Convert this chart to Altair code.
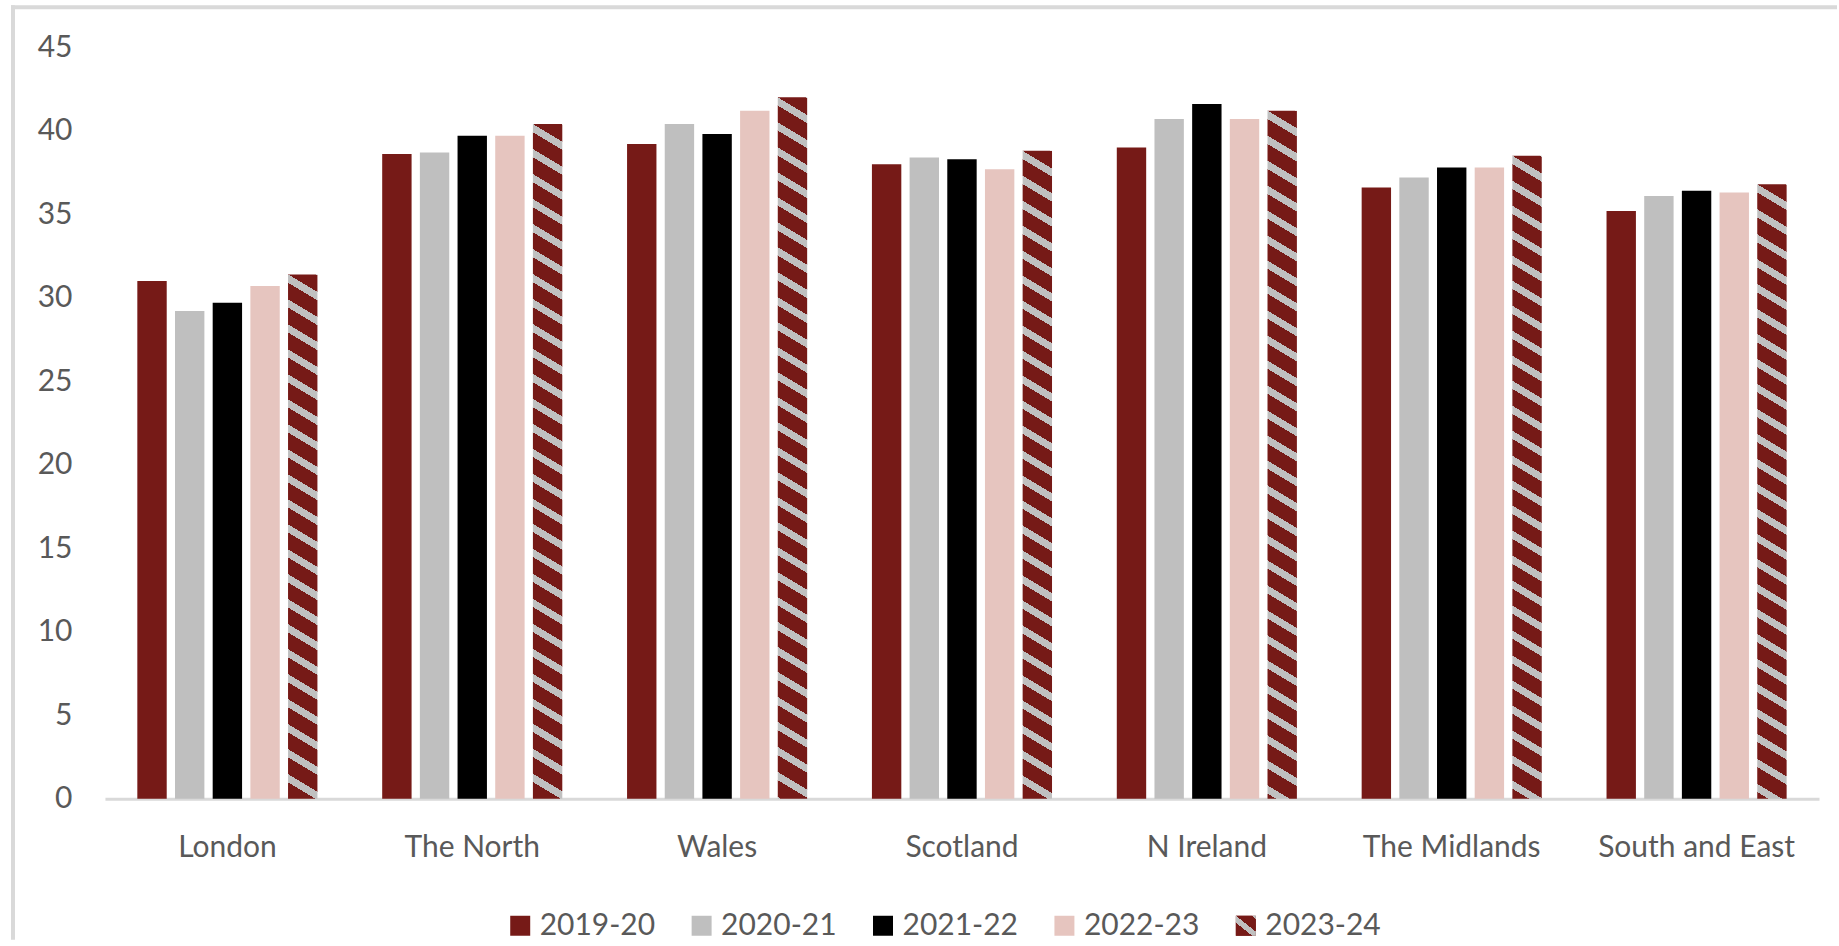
import math

import altair as alt
import pandas as pd

# ---- data -------------------------------------------------------------
REGIONS = ["London", "The North", "Wales", "Scotland", "N Ireland",
           "The Midlands", "South and East"]
SERIES = ["2019-20", "2020-21", "2021-22", "2022-23", "2023-24"]

V_2019_20 = [31.0, 38.6, 39.2, 38.0, 39.0, 36.6, 35.2]
V_2020_21 = [29.2, 38.7, 40.4, 38.4, 40.7, 37.2, 36.1]
V_2021_22 = [29.7, 39.7, 39.8, 38.3, 41.6, 37.8, 36.4]
V_2022_23 = [30.7, 39.7, 41.2, 37.7, 40.7, 37.8, 36.3]
V_2023_24 = [31.4, 40.4, 42.0, 38.8, 41.2, 38.5, 36.8]

Y_TICKS = [0, 5, 10, 15, 20, 25, 30, 35, 40, 45]

# ---- styling ----------------------------------------------------------
RED = "#761A17"
GREY = "#BFBFBF"
BLACK = "#000000"
PINK = "#E6C5BF"
STRIPE = "#C0C0C0"
TEXT = "#595959"
LINE = "#D9D9D9"
FONT = "Lato"
FS = 30

W, H = 1715, 752            # plot area
Y_MAX = 45
X_PAD_INNER, X_PAD_OUTER = 0.2645, 0.13225
OFF_PAD_INNER = 0.22

# bar width in pixels, derived from the band layout above
step = W / (len(REGIONS) - X_PAD_INNER + 2 * X_PAD_OUTER)
band = step * (1 - X_PAD_INNER)
bar_w = band / (len(SERIES) - OFF_PAD_INNER) * (1 - OFF_PAD_INNER)

series_values = [V_2019_20, V_2020_21, V_2021_22, V_2022_23, V_2023_24]
rows = []
for s, vals in zip(SERIES, series_values):
    for r, v in zip(REGIONS, vals):
        rows.append({"region": r, "series": s, "value": v})
df = pd.DataFrame(rows)


def stripe_fill(w, h, slope=0.6, period=25.0, frac=0.33):
    """Diagonal hatch (down to the right) as a hard-stop linear gradient
    expressed in the mark's bounding-box units."""
    c0 = -slope * w
    span = h + slope * w
    k = span / (h * h + (slope * w) ** 2)

    def colour(c):
        return STRIPE if (c % period) < frac * period else RED

    edges = []
    for n in range(math.floor(c0 / period) - 1, int(h / period) + 2):
        for e in (n * period, n * period + frac * period):
            if c0 < e < h:
                edges.append(e)
    edges.sort()
    stops = [alt.GradientStop(offset=0, color=colour(c0 + 1e-6))]
    for e in edges:
        off = round((e - c0) / span, 5)
        stops.append(alt.GradientStop(offset=off, color=colour(e - 1e-6)))
        stops.append(alt.GradientStop(offset=off, color=colour(e + 1e-6)))
    stops.append(alt.GradientStop(offset=1, color=colour(h - 1e-6)))
    return alt.LinearGradient(gradient="linear", stops=stops,
                              x1=1, y1=0, x2=1 - k * slope * w, y2=k * h)


color_scale = alt.Scale(domain=SERIES, range=[RED, GREY, BLACK, PINK, RED])

x_enc = alt.X(
    "region:N", sort=REGIONS,
    scale=alt.Scale(domain=REGIONS, paddingInner=X_PAD_INNER,
                    paddingOuter=X_PAD_OUTER),
    axis=alt.Axis(title=None, labelAngle=0, ticks=False, tickSize=0,
                  domainColor=LINE, domainWidth=3, grid=False,
                  labelFont=FONT, labelFontSize=FS, labelColor=TEXT,
                  labelPadding=34, labelLimit=0),
)
xoff_enc = alt.XOffset("series:N",
                       scale=alt.Scale(domain=SERIES, paddingInner=OFF_PAD_INNER,
                                       paddingOuter=0))
y_enc = alt.Y(
    "value:Q",
    scale=alt.Scale(domain=[0, Y_MAX], nice=False),
    axis=alt.Axis(title=None, values=Y_TICKS, domain=False, ticks=False,
                  tickSize=0, grid=False, labelFont=FONT, labelFontSize=FS,
                  labelColor=TEXT, labelPadding=33),
)

solid = (
    alt.Chart(df)
    .transform_filter(alt.datum.series != "2023-24")
    .mark_bar()
    .encode(x=x_enc, xOffset=xoff_enc, y=y_enc,
            color=alt.Color("series:N", scale=color_scale, legend=None))
)

hatched = []
for r, v in zip(REGIONS, V_2023_24):
    hatched.append(
        alt.Chart(df)
        .transform_filter((alt.datum.series == "2023-24") & (alt.datum.region == r))
        .mark_bar(fill=stripe_fill(bar_w, v / Y_MAX * H))
        .encode(x=x_enc, xOffset=xoff_enc, y=y_enc)
    )

bars = alt.layer(solid, *hatched)

# ---- legend row --------------------------------------------------------
legend_df = pd.DataFrame({"series": SERIES})
LEG_Y = 879
lx = alt.X("series:N", sort=SERIES,
           scale=alt.Scale(type="point", domain=SERIES, range=[415.5, 1141.5],
                           padding=0),
           axis=None)

swatches = alt.Chart(legend_df).mark_square(size=400, opacity=1, filled=True).encode(
    x=lx, y=alt.value(LEG_Y),
    color=alt.Color("series:N", scale=color_scale, legend=None))
hatch_swatch = (
    alt.Chart(legend_df)
    .transform_filter(alt.datum.series == "2023-24")
    .mark_square(size=400, opacity=1, filled=True,
                 fill=stripe_fill(20, 20, slope=0.8, period=20, frac=0.35))
    .encode(x=lx, y=alt.value(LEG_Y))
)
legend_text = alt.Chart(legend_df).mark_text(
    align="left", baseline="middle", dx=19.5, font=FONT, fontSize=FS, color=TEXT
).encode(x=lx, y=alt.value(LEG_Y), text="series:N")

legend = alt.layer(swatches, hatch_swatch, legend_text)

# ---- chart-area border (top and left edges) ---------------------------
one = pd.DataFrame({"k": [0]})
frame_top = alt.Chart(one).mark_rule(color=LINE, strokeWidth=4).encode(
    x=alt.value(-94), x2=alt.value(1733), y=alt.value(-40))
frame_left = alt.Chart(one).mark_rule(color=LINE, strokeWidth=4).encode(
    x=alt.value(-92), y=alt.value(-42), y2=alt.value(893))

chart = (
    alt.layer(bars, legend, frame_top, frame_left)
    .resolve_scale(x="independent")
    .properties(width=W, height=H,
                padding={"left": 9, "top": 3, "right": 0, "bottom": 0},
                background="white")
    .configure_view(strokeWidth=0)
)

chart.save("out.html", embed_options={"renderer": "svg", "actions": False})
